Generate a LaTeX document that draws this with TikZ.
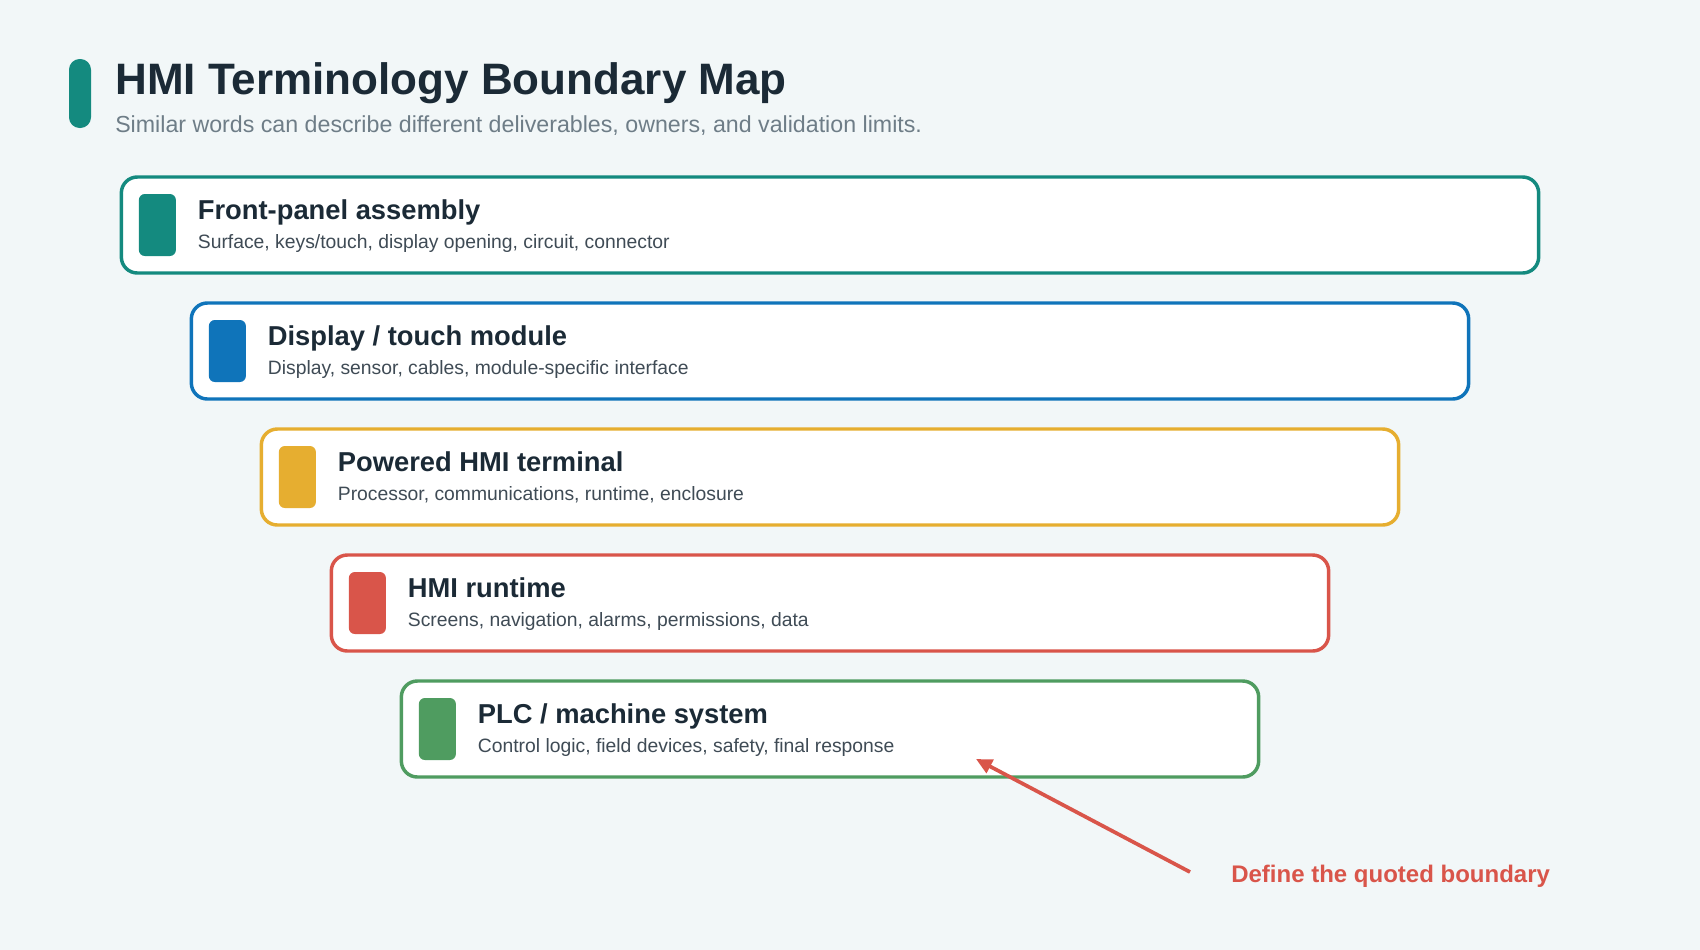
\documentclass[tikz,border=0pt]{standalone}
\usepackage{fontspec}
\setmainfont{Liberation Sans}
\usetikzlibrary{arrows.meta, positioning, calc}
\definecolor{pagebg}{HTML}{F2F7F8}
\definecolor{ink}{HTML}{1B2A36}
\definecolor{mutedgray}{HTML}{6E7D87}
\definecolor{descgray}{HTML}{3F4B55}
\definecolor{layerteal}{HTML}{148A7F}
\definecolor{layerblue}{HTML}{0F74BA}
\definecolor{layeramber}{HTML}{E6AE30}
\definecolor{layerred}{HTML}{D9554A}
\definecolor{layergreen}{HTML}{4F9C60}
\tikzset{
  layerbox/.style={
    rectangle, rounded corners=12pt,
    minimum height=72pt, inner sep=0pt,
    draw=#1, line width=2.6pt, fill=white
  },
  swatch/.style={
    rectangle, rounded corners=4.5pt,
    minimum width=27.75pt, minimum height=46.5pt, inner sep=0pt,
    fill=#1, anchor=west
  },
  layertitle/.style={
    font=\fontsize{20.5}{24}\selectfont\bfseries,
    text=ink, inner sep=0pt, anchor=base west
  },
  layerdesc/.style={
    font=\fontsize{14.5}{17}\selectfont,
    text=descgray, inner sep=0pt, anchor=base west
  },
  notearrow/.style={-{Triangle[length=12pt,width=11pt]}, line width=2.8pt, color=layerred},
}

\begin{document}
\begin{tikzpicture}[x=0.75pt,y=-0.75pt]
  \fill[pagebg] (0,0) rectangle (1700,950);
  \useasboundingbox (0,0) rectangle (1700,950);

  % heading
  \node[rectangle, rounded corners=8pt, fill=layerteal, minimum width=16.5pt,
        minimum height=51.75pt, inner sep=0pt] (accent) at (80,93.5) {};
  \node[font=\fontsize{33}{40}\selectfont\bfseries, text=ink, inner sep=0pt,
        anchor=base west] (title) at (115,94.5) {HMI Terminology Boundary Map};
  \node[font=\fontsize{17.4}{21}\selectfont, text=mutedgray, inner sep=0pt,
        anchor=base west] (subtitle) at (115,132)
        {Similar words can describe different deliverables, owners, and validation limits.};

  % layers
  \node[layerbox=layerteal,  minimum width=1063pt](fpa) at (830,225){};
  \node[layerbox=layerblue,  minimum width=958pt] (dtm) at (830,351){};
  \node[layerbox=layeramber, minimum width=853pt] (phmi)at (830,477){};
  \node[layerbox=layerred,   minimum width=748pt] (rt)  at (830,603){};
  \node[layerbox=layergreen, minimum width=643pt] (plc) at (830,729){};

  \node[swatch=layerteal]  (fpa-s) at ([xshift=14.25pt]fpa.west) {};
  \node[swatch=layerblue]  (dtm-s) at ([xshift=14.25pt]dtm.west) {};
  \node[swatch=layeramber] (phmi-s)at ([xshift=14.25pt]phmi.west){};
  \node[swatch=layerred]   (rt-s)  at ([xshift=14.25pt]rt.west)  {};
  \node[swatch=layergreen] (plc-s) at ([xshift=14.25pt]plc.west) {};

  \node[layertitle](fpa-t) at ([xshift=58.5pt,yshift=4.5pt]fpa.west) {Front-panel assembly};
  \node[layerdesc] (fpa-d) at ([xshift=58.5pt,yshift=-17.25pt]fpa.west)
        {Surface, keys/touch, display opening, circuit, connector};
  \node[layertitle](dtm-t) at ([xshift=58.5pt,yshift=4.5pt]dtm.west) {Display / touch module};
  \node[layerdesc] (dtm-d) at ([xshift=58.5pt,yshift=-17.25pt]dtm.west)
        {Display, sensor, cables, module-specific interface};
  \node[layertitle](phmi-t)at ([xshift=58.5pt,yshift=4.5pt]phmi.west){Powered HMI terminal};
  \node[layerdesc] (phmi-d)at ([xshift=58.5pt,yshift=-17.25pt]phmi.west)
        {Processor, communications, runtime, enclosure};
  \node[layertitle](rt-t)  at ([xshift=58.5pt,yshift=4.5pt]rt.west)  {HMI runtime};
  \node[layerdesc] (rt-d)  at ([xshift=58.5pt,yshift=-17.25pt]rt.west)
        {Screens, navigation, alarms, permissions, data};
  \node[layertitle](plc-t) at ([xshift=58.5pt,yshift=4.5pt]plc.west) {PLC / machine system};
  \node[layerdesc] (plc-d) at ([xshift=58.5pt,yshift=-17.25pt]plc.west)
        {Control logic, field devices, safety, final response};

  % callout
  \node[font=\fontsize{18}{22}\selectfont\bfseries, text=layerred, inner sep=0pt,
        anchor=base west] (note) at (1231,882) {Define the quoted boundary};
  \coordinate (note-tail) at (1190,872);
  \coordinate (note-tip) at (976,759);
  \draw[notearrow] (note-tail) -- (note-tip);
\end{tikzpicture}
\end{document}
